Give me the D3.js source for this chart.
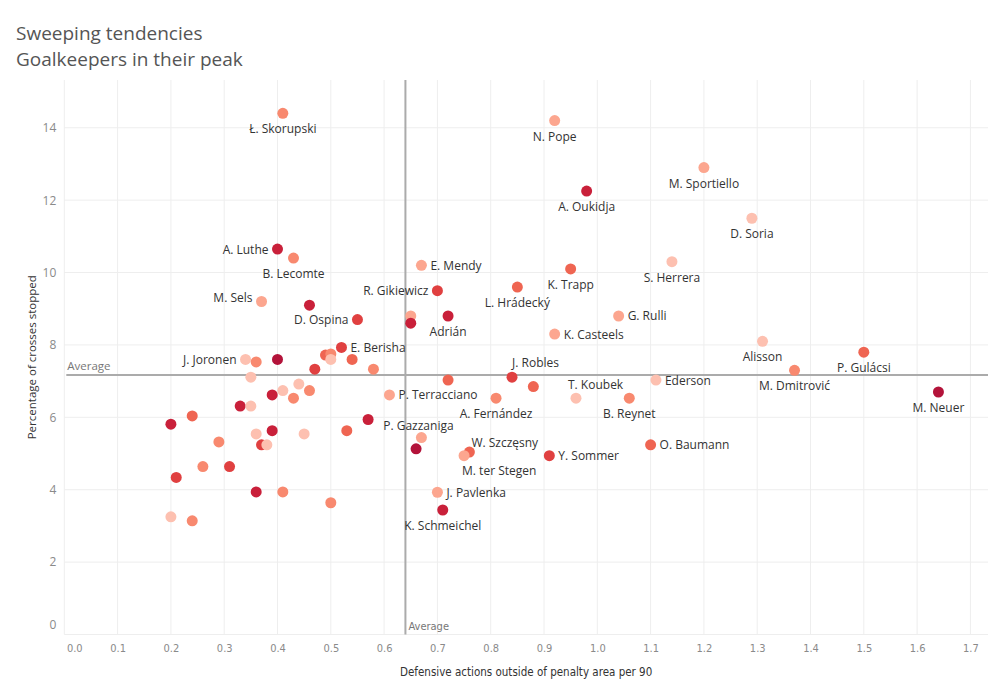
<!DOCTYPE html>
<html><head><meta charset="utf-8">
<script src="https://cdn.jsdelivr.net/npm/d3@7"></script>
<style>
body{margin:0;background:#fff;}
svg{display:block;}
</style></head>
<body>
<svg id="chart" width="1000" height="700"></svg>
<script>
// ---- data ----
const names = ["Ł. Skorupski","N. Pope","M. Sportiello","A. Oukidja","D. Soria","A. Luthe","B. Lecomte","E. Mendy","K. Trapp","S. Herrera",
 "L. Hrádecký","R. Gikiewicz","M. Sels","","D. Ospina","Adrián","","","G. Rulli","K. Casteels",
 "Alisson","P. Gulácsi","M. Dmitrović","M. Neuer","E. Berisha","J. Joronen","","","","",
 "","","","","","","","","","",
 "P. Terracciano","","","","","","","","","",
 "","","","","","","","","","",
 "","","P. Gazzaniga","","W. Szczęsny","M. ter Stegen","Y. Sommer","J. Pavlenka","K. Schmeichel","A. Fernández",
 "J. Robles","","T. Koubek","B. Reynet","Ederson","O. Baumann"];
const xValues = [0.41,0.92,1.20,0.98,1.29,0.40,0.43,0.67,0.95,1.14,
 0.85,0.70,0.37,0.46,0.55,0.72,0.65,0.65,1.04,0.92,
 1.31,1.50,1.37,1.64,0.52,0.34,0.36,0.40,0.49,0.50,
 0.50,0.54,0.47,0.58,0.35,0.44,0.39,0.41,0.43,0.46,
 0.61,0.72,0.33,0.35,0.20,0.24,0.29,0.36,0.39,0.45,
 0.37,0.38,0.53,0.57,0.21,0.26,0.31,0.36,0.41,0.50,
 0.20,0.24,0.67,0.66,0.76,0.75,0.91,0.70,0.71,0.81,
 0.84,0.88,0.96,1.06,1.11,1.10];
const yValues = [14.4,14.2,12.9,12.25,11.5,10.65,10.4,10.2,10.1,10.3,
 9.6,9.5,9.2,9.1,8.7,8.8,8.8,8.6,8.8,8.3,
 8.1,7.8,7.3,6.7,7.93,7.6,7.53,7.6,7.72,7.75,
 7.6,7.6,7.33,7.33,7.11,6.92,6.62,6.74,6.53,6.74,
 6.62,7.03,6.31,6.31,5.81,6.04,5.32,5.54,5.63,5.54,
 5.24,5.24,5.63,5.94,4.34,4.64,4.64,3.94,3.94,3.64,
 3.25,3.14,5.44,5.13,5.04,4.94,4.94,3.93,3.44,6.53,
 7.11,6.85,6.53,6.53,7.03,5.24];
const shadeLevel = [3,2,2,6,1,6,3,2,4,1,
 4,5,2,6,5,6,2,6,2,2,
 1,4,3,7,5,1,3,7,4,3,
 1,4,5,3,1,1,6,1,3,3,
 2,4,6,1,6,4,3,1,6,1,
 5,1,4,6,5,3,5,6,3,3,
 1,3,2,7,4,2,5,2,6,3,
 5,4,1,3,1,4];
const xTicks = [0,0.1,0.2,0.3,0.4,0.5,0.6,0.7,0.8,0.9,1.0,1.1,1.2,1.3,1.4,1.5,1.6,1.7];
const yTicks = [0,2,4,6,8,10,12,14];
const avgX = 0.64, avgY = 7.17;

// ---- style ----
const palette = ["#fee0d6","#fdc0b0","#fca68f","#f8896f","#ef6552","#e04040","#c9203a","#b3133a"];
const labelPlace = {"A. Luthe":"l","R. Gikiewicz":"l","M. Sels":"l","D. Ospina":"l","J. Joronen":"l",
 "E. Mendy":"r","G. Rulli":"r","K. Casteels":"r","E. Berisha":"r","P. Terracciano":"r","Y. Sommer":"r",
 "J. Pavlenka":"r","Ederson":"r","O. Baumann":"r"};
const labelOverride = {"P. Gazzaniga":[-3,-12,"middle"],"W. Szczęsny":[2,-10,"start"],"M. ter Stegen":[-2,15,"start"],
 "J. Robles":[0,-15,"start"],"T. Koubek":[-8,-14,"start"],"M. Sels":[-9,-4,"end"]};

const svg = d3.select("#chart");
const pL = 64.3, pR = 988, pT = 80, pB = 634.5;
const x = d3.scaleLinear().domain([0,1.733]).range([pL, pR]);
const y = d3.scaleLinear().domain([0,15.32]).range([pB, pT]);

// title
svg.append("text").attr("x",16).attr("y",40).text("Sweeping tendencies")
  .attr("font-family","Open Sans, Noto Sans, sans-serif").attr("font-size",19).attr("fill","#555");
svg.append("text").attr("x",16).attr("y",66).text("Goalkeepers in their peak")
  .attr("font-family","Open Sans, Noto Sans, sans-serif").attr("font-size",19).attr("fill","#555");

// gridlines
const g = svg.append("g");
g.selectAll(".vg").data(xTicks).join("line")
  .attr("x1",d=>x(d)).attr("x2",d=>x(d)).attr("y1",pT).attr("y2",pB)
  .attr("stroke","#eeeeee").attr("stroke-width",1);
g.selectAll(".hg").data(yTicks).join("line")
  .attr("x1",pL).attr("x2",pR).attr("y1",d=>y(d)).attr("y2",d=>y(d))
  .attr("stroke","#eeeeee").attr("stroke-width",1);

// axes
const xAxis = d3.axisBottom(x).tickValues(xTicks).tickFormat(d3.format(".1f")).tickSize(0).tickPadding(10);
const xa = svg.append("g").attr("transform",`translate(0,${pB})`).call(xAxis);
xa.select(".domain").remove();
xa.selectAll("text").attr("font-family","DejaVu Sans Condensed, DejaVu Sans, sans-serif")
  .attr("font-stretch","condensed").attr("font-size",11).attr("fill","#8a8a8a");
xa.selectAll(".tick").filter(d=>d===0).select("text").attr("dx",10);

const yAxis = d3.axisLeft(y).tickValues(yTicks).tickSize(0).tickPadding(8);
const ya = svg.append("g").attr("transform",`translate(${pL},0)`).call(yAxis);
ya.select(".domain").remove();
ya.selectAll("text").attr("font-family","Open Sans, Noto Sans, sans-serif").attr("font-size",12).attr("fill","#8a8a8a");
ya.selectAll(".tick").filter(d=>d===0).select("text").attr("dy","-0.5em");

// axis titles
svg.append("text").attr("x",(pL+pR)/2).attr("y",676).attr("text-anchor","middle")
  .text("Defensive actions outside of penalty area per 90")
  .attr("font-family","DejaVu Sans Condensed, DejaVu Sans, sans-serif").attr("font-stretch","condensed")
  .attr("font-size",11.5).attr("fill","#333");
svg.append("text").attr("transform",`translate(36,${(pT+pB)/2}) rotate(-90)`).attr("text-anchor","middle")
  .text("Percentage of crosses stopped")
  .attr("font-family","Open Sans, Noto Sans, sans-serif").attr("font-size",11.5).attr("fill","#333");

// average lines
svg.append("line").attr("x1",x(avgX)).attr("x2",x(avgX)).attr("y1",pT).attr("y2",pB)
  .attr("stroke","#ababab").attr("stroke-width",2);
svg.append("line").attr("x1",pL+2).attr("x2",pR).attr("y1",y(avgY)).attr("y2",y(avgY))
  .attr("stroke","#ababab").attr("stroke-width",2);
svg.append("text").attr("x",pL+3).attr("y",y(avgY)-5).text("Average")
  .attr("font-family","Open Sans, Noto Sans, sans-serif").attr("font-size",11.5).attr("fill","#777");
svg.append("text").attr("x",x(avgX)+3).attr("y",pB-5).text("Average")
  .attr("font-family","DejaVu Sans Condensed, DejaVu Sans, sans-serif").attr("font-stretch","condensed")
  .attr("font-size",11).attr("fill","#777");

// points
const pts = names.map((n,i)=>({name:n,x:xValues[i],y:yValues[i],s:shadeLevel[i]}));
svg.append("g").selectAll("circle").data(pts).join("circle")
  .attr("cx",d=>x(d.x)).attr("cy",d=>y(d.y)).attr("r",5.5)
  .attr("fill",d=>palette[d.s]);

// labels
const lab = svg.append("g").attr("font-family","Open Sans, Noto Sans, sans-serif").attr("font-size",12).attr("fill","#333");
pts.filter(d=>d.name).forEach(d=>{
  let dx=0, dy=15.5, anchor="middle";
  const p = labelPlace[d.name];
  if (p==="l"){dx=-9;dy=0;anchor="end";}
  if (p==="r"){dx=9;dy=0;anchor="start";}
  if (labelOverride[d.name]){[dx,dy,anchor]=labelOverride[d.name];}
  lab.append("text").attr("x",x(d.x)+dx).attr("y",y(d.y)+dy)
    .attr("text-anchor",anchor).attr("dominant-baseline","central").text(d.name);
});
</script>
</body></html>
